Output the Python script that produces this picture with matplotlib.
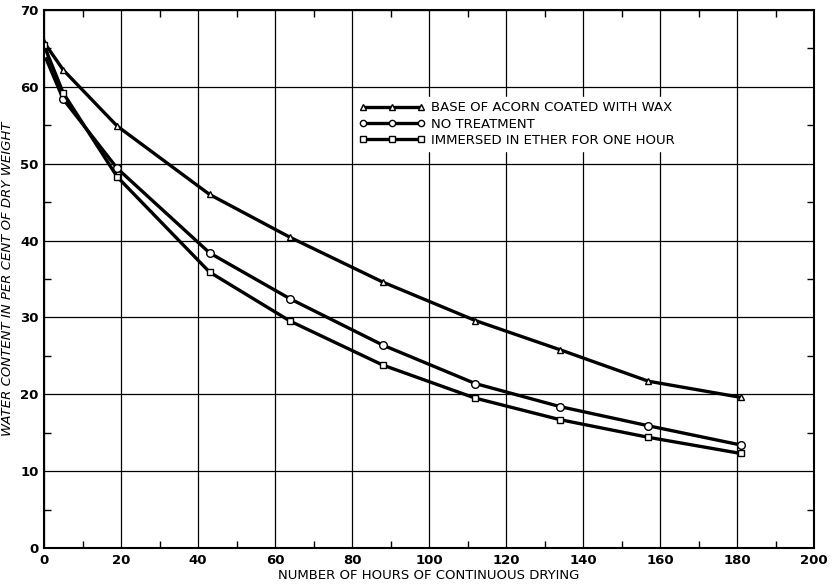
import numpy as np
import matplotlib
matplotlib.use("Agg")
import matplotlib.pyplot as plt

# values
hours = [0, 5, 19, 43, 64, 88, 112, 134, 157, 181]
wax = [65.8, 62.2, 54.9, 46.0, 40.4, 34.6, 29.6, 25.8, 21.7, 19.6]
no_treatment = [64.3, 58.4, 49.4, 38.4, 32.4, 26.4, 21.4, 18.4, 15.9, 13.4]
ether = [65.4, 59.2, 48.3, 35.9, 29.5, 23.8, 19.5, 16.7, 14.4, 12.3]

labels = ["BASE OF ACORN COATED WITH WAX", "NO TREATMENT",
          "IMMERSED IN ETHER FOR ONE HOUR"]
markers = ["^", "o", "s"]

fig = plt.figure(figsize=(8.35, 5.86), dpi=100)
ax = fig.add_axes([44 / 835, 38 / 586, 770 / 835, 538 / 586])

for ys, lab, m in zip([wax, no_treatment, ether], labels, markers):
    ax.plot(hours, ys, color="black", linewidth=2.4, marker=m,
            markersize=5 if m != "o" else 5.5, markerfacecolor="white",
            markeredgecolor="black", markeredgewidth=1.0, label=lab)

ax.set_xlim(0, 200)
ax.set_ylim(0, 70)
ax.set_xticks(np.arange(0, 201, 20))
ax.set_yticks(np.arange(0, 71, 10))
ax.set_xticks(np.arange(10, 200, 20), minor=True)
ax.set_yticks(np.arange(5, 70, 10), minor=True)
ax.grid(True, which="major", color="black", linewidth=0.9)
ax.tick_params(which="major", length=0, labelsize=9.5, pad=4)
ax.tick_params(which="minor", direction="in", length=5, width=1.0,
               top=True, right=True, bottom=True, left=True)
for lbl in ax.get_xticklabels() + ax.get_yticklabels():
    lbl.set_fontweight("bold")
for sp in ax.spines.values():
    sp.set_linewidth(1.5)

ax.set_xlabel("NUMBER OF HOURS OF CONTINUOUS DRYING", fontsize=9.5,
              labelpad=2)
ax.set_ylabel("WATER CONTENT IN PER CENT OF DRY WEIGHT", fontsize=9.5,
              fontstyle="italic", labelpad=4)

# legend sits inside the grid, three markers per sample line
leg = ax.legend(loc="upper left", bbox_to_anchor=(0.395, 0.85),
                frameon=True, fancybox=False, edgecolor="white",
                facecolor="white", framealpha=1.0, fontsize=9.5,
                handlelength=5.0, handletextpad=0.5, labelspacing=0.25,
                borderpad=0.3, numpoints=3)
for line in leg.get_lines():
    line.set_linewidth(2.4)
    line.set_markersize(4.5)

fig.savefig("out.png", dpi=100)
